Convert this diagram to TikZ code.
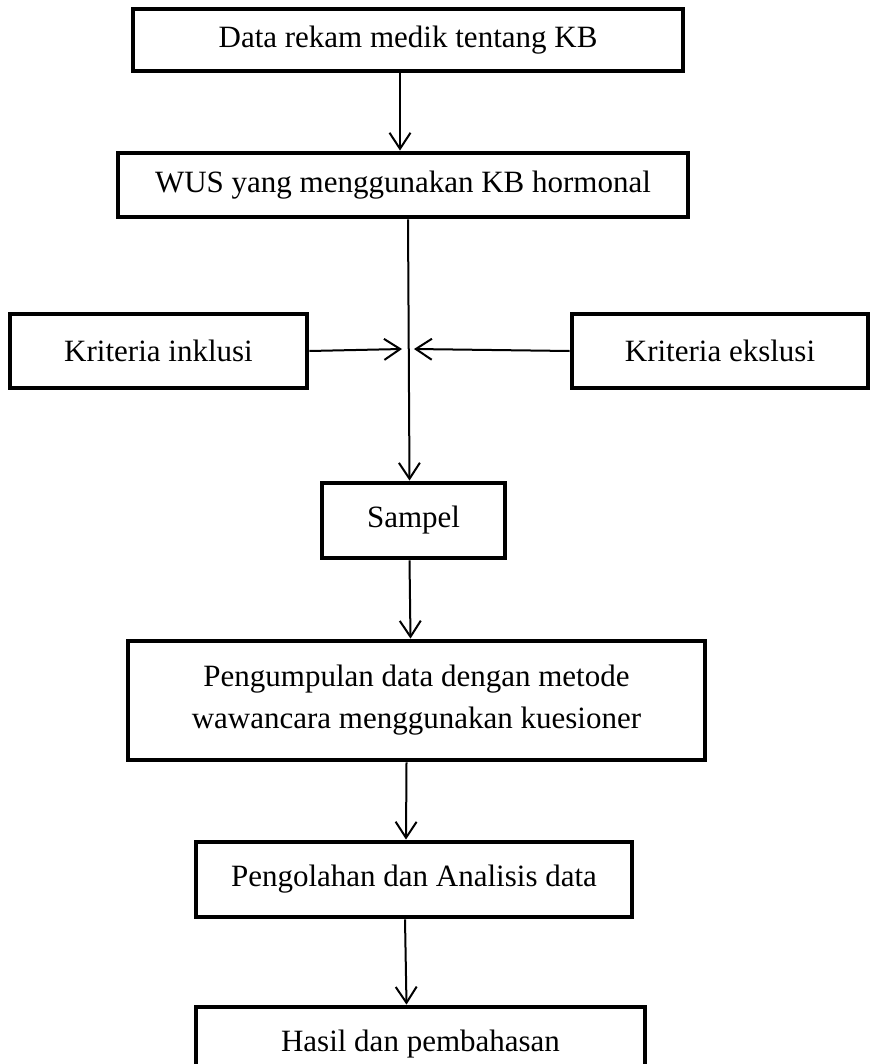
\documentclass[tikz,border=0pt]{standalone}
\usepackage{fontspec}
\setmainfont{Liberation Serif}
\usetikzlibrary{arrows.meta}
\begin{document}
\begin{tikzpicture}[x=.5pt, y=-.5pt, >={Straight Barb[length=8pt,width=10.5pt]},
  kotak/.style={draw, line width=2.4pt, inner sep=0pt, align=center, font=\fontsize{15.5}{21}\selectfont},
  panah/.style={->, line width=1pt}]
\useasboundingbox (0,0) rectangle (870,1064);
\clip (0,0) rectangle (870,1064);
\node[kotak, minimum width=275pt, minimum height=31pt] (data) at (408,40) {Data rekam medik tentang KB};
\node[kotak, minimum width=285pt, minimum height=32pt] (wus) at (403,185) {WUS yang menggunakan KB hormonal};
\node[kotak, minimum width=148.5pt, minimum height=37pt] (inklusi) at (158.5,351) {Kriteria inklusi};
\node[kotak, minimum width=148pt, minimum height=37pt] (ekslusi) at (720,351) {Kriteria ekslusi};
\node[kotak, minimum width=91.5pt, minimum height=37.5pt] (sampel) at (413.5,520.5) {Sampel};
\node[kotak, minimum width=288.5pt, minimum height=59.5pt] (kumpul) at (416.5,700.5) {Pengumpulan data dengan metode\\wawancara menggunakan kuesioner};
\node[kotak, minimum width=218pt, minimum height=37.5pt] (olah) at (414,879.5) {Pengolahan dan Analisis data};
\node[kotak, minimum width=224.5pt, minimum height=37.5pt] (hasil) at (420.5,1044.5) {Hasil dan pembahasan};
\coordinate (temu) at (408,349);

\draw[panah] ([xshift=-4pt]data.south) -- ([xshift=-1.5pt]wus.north);
\draw[panah] ([xshift=2.5pt]wus.south) -- ([xshift=-2pt]sampel.north);
\draw[panah] (inklusi.east) -- ([xshift=-3pt]temu);
\draw[panah] (ekslusi.west) -- ([xshift=3pt]temu);
\draw[panah] ([xshift=-2pt]sampel.south) -- ([xshift=-3pt]kumpul.north);
\draw[panah] ([xshift=-5pt]kumpul.south) -- ([xshift=-4pt]olah.north);
\draw[panah] ([xshift=-4.5pt]olah.south) -- ([xshift=-7pt]hasil.north);
\end{tikzpicture}
\end{document}
